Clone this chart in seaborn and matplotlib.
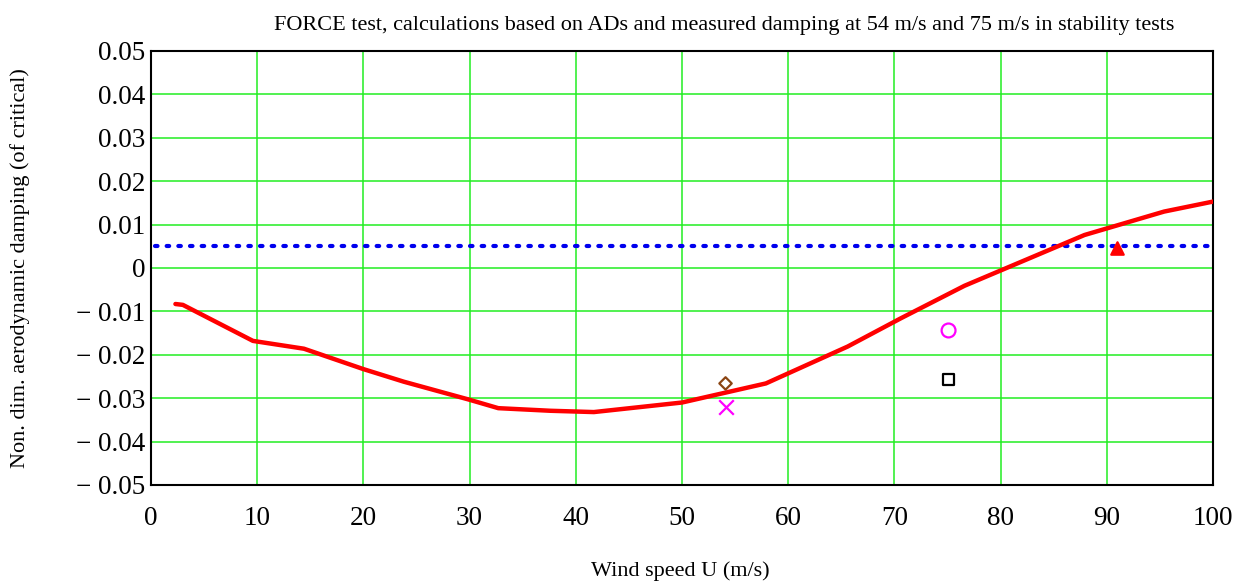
import matplotlib

matplotlib.use("Agg")
import matplotlib.pyplot as plt  # noqa: E402
import numpy as np  # noqa: E402
import pandas as pd  # noqa: E402
import seaborn as sns  # noqa: E402
from matplotlib.ticker import FuncFormatter  # noqa: E402

sns.set_theme(style="white")
plt.rcParams["font.family"] = ["Liberation Serif", "DejaVu Serif"]
plt.rcParams["text.color"] = "black"

# calculated aerodynamic damping from ADs
wind_speed = [2.3, 3.0, 9.6, 14.4, 20.0, 23.8, 29.9, 32.7, 37.6, 41.7,
              50.0, 57.9, 65.6, 70.6, 76.6, 87.9, 95.4, 100.0]
damping = [-0.0083, -0.0085, -0.0168, -0.0186, -0.0233, -0.0262, -0.0303,
           -0.0323, -0.0329, -0.0332, -0.0310, -0.0266, -0.0181, -0.0116,
           -0.0041, 0.0076, 0.0130, 0.0153]

# structural damping level
ref_x = [0.4, 100.0]
ref_y = [0.005, 0.005]

# measured points from stability tests
meas_x = [54.1, 54.1, 75.1, 75.1, 91.0]
meas_y = [-0.0266, -0.0320, -0.0144, -0.0257, 0.0047]
meas_label = ["diamond", "cross", "circle", "square", "triangle"]
meas_marker = {"diamond": "D", "cross": "x", "circle": "o",
               "square": "s", "triangle": "^"}
meas_face = {"diamond": "none", "cross": "#ff00ff", "circle": "none",
             "square": "none", "triangle": "#ff0000"}
meas_edge = {"diamond": "#8b4513", "cross": "#ff00ff", "circle": "#ff00ff",
             "square": "black", "triangle": "#ff0000"}
meas_size = {"diamond": 40, "cross": 110, "circle": 100,
             "square": 55, "triangle": 80}

x_ticks = np.arange(0, 101, 10)
y_ticks = np.round(np.arange(-0.05, 0.0501, 0.01), 2)

fig = plt.figure(figsize=(12.5, 5.82), dpi=100)
ax = fig.add_axes([0.1208, 0.1667, 0.8496, 0.7457])

ax.grid(True, color="#22ee22", linewidth=1.1)
ax.set_axisbelow(True)

sns.lineplot(x=ref_x, y=ref_y, ax=ax, color="#0000ee", linewidth=3,
             linestyle=(0, (0.6, 2.2)), dash_capstyle="round", zorder=3)
sns.lineplot(x=wind_speed, y=damping, ax=ax, color="#ff0000", linewidth=3.2,
             sort=False, estimator=None, zorder=4)

meas = pd.DataFrame({"x": meas_x, "y": meas_y, "kind": meas_label})
for kind, grp in meas.groupby("kind"):
    sns.scatterplot(data=grp, x="x", y="y", ax=ax, marker=meas_marker[kind],
                    s=meas_size[kind], facecolor=meas_face[kind],
                    edgecolor=meas_edge[kind], color=meas_edge[kind],
                    linewidth=1.6, zorder=5)

ax.set_xlim(0, 100)
ax.set_ylim(-0.05, 0.05)
ax.set_xticks(x_ticks)
ax.set_yticks(y_ticks)


def fmt_y(v, _pos):
    if abs(v) < 1e-9:
        return "0"
    s = f"{abs(v):.2f}"
    return f"\u2212 {s}" if v < 0 else s


ax.yaxis.set_major_formatter(FuncFormatter(fmt_y))
ax.tick_params(axis="both", length=0, labelsize=19.5, colors="black")
ax.tick_params(axis="x", pad=15)
ax.tick_params(axis="y", pad=4)
for s in ax.spines.values():
    s.set_color("black")
    s.set_linewidth(1.5)

ax.set_xlabel("")
ax.set_ylabel("")
fig.text(0.5445, 0.018, "Wind speed U (m/s)", ha="center", va="center",
         fontsize=16, color="black")
fig.text(0.016, 0.54, "Non. dim. aerodynamic damping (of critical)",
         rotation=90, ha="center", va="center", fontsize=16, color="black")
fig.text(0.579, 0.957,
         "FORCE test, calculations based on ADs and measured damping at "
         "54 m/s and 75 m/s in stability tests",
         ha="center", va="center", fontsize=16, color="black")

fig.savefig("out.png", dpi=100)
plt.close(fig)
